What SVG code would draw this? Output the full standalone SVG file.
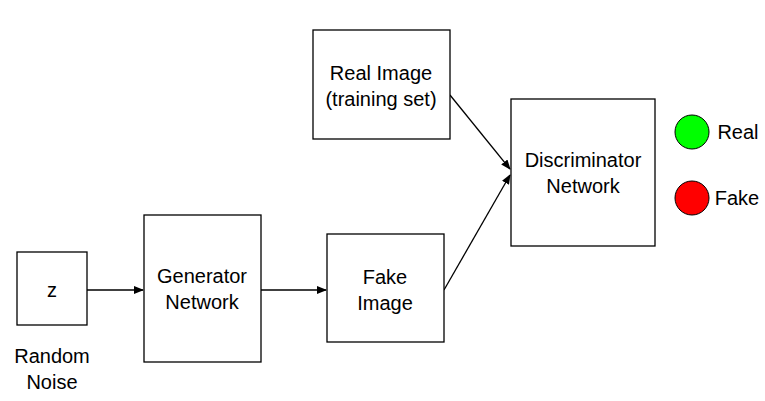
<svg xmlns="http://www.w3.org/2000/svg" width="765" height="401" viewBox="0 0 765 401">
<style>
.b{fill:#fff;stroke:#000;stroke-width:1.3}
text{font-family:"Liberation Sans",Arial,sans-serif;font-size:20px;fill:#000;text-anchor:middle}
.c{stroke:#000;stroke-width:1.3;fill:none;marker-end:url(#a)}
</style>
<defs><marker id="a" markerWidth="10" markerHeight="8" refX="9" refY="4" orient="auto" markerUnits="userSpaceOnUse"><path d="M0,0 L10,4 L0,8 Z" fill="#000"/></marker></defs>
<rect width="765" height="401" fill="#fff"/>
<g id="connectors">
<line class="c" x1="87" y1="290" x2="143" y2="290"/>
<line class="c" x1="261" y1="290" x2="326" y2="290"/>
<line class="c" x1="444" y1="290" x2="510" y2="175"/>
<line class="c" x1="450" y1="95" x2="510" y2="169"/>
</g>
<g id="z"><rect class="b" x="17" y="252" width="70" height="73"/><text x="52" y="297">z</text></g>
<g id="noise"><text x="52" y="363">Random</text><text x="52" y="389">Noise</text></g>
<g id="gen"><rect class="b" x="144" y="215" width="117" height="147"/><text x="202" y="283">Generator</text><text x="202" y="309">Network</text></g>
<g id="fake"><rect class="b" x="327" y="234" width="117" height="108"/><text x="385" y="284">Fake</text><text x="385" y="310">Image</text></g>
<g id="real"><rect class="b" x="313" y="30" width="137" height="109"/><text x="381" y="80">Real Image</text><text x="381" y="106">(training set)</text></g>
<g id="disc"><rect class="b" x="511" y="99" width="144" height="147"/><text x="583" y="167">Discriminator</text><text x="583" y="193">Network</text></g>
<g id="realout"><circle cx="692" cy="132" r="17" fill="#00ff00" stroke="#000"/><text x="738" y="139">Real</text></g>
<g id="fakeout"><circle cx="692" cy="198" r="17" fill="#ff0000" stroke="#000"/><text x="737" y="205">Fake</text></g>
</svg>
